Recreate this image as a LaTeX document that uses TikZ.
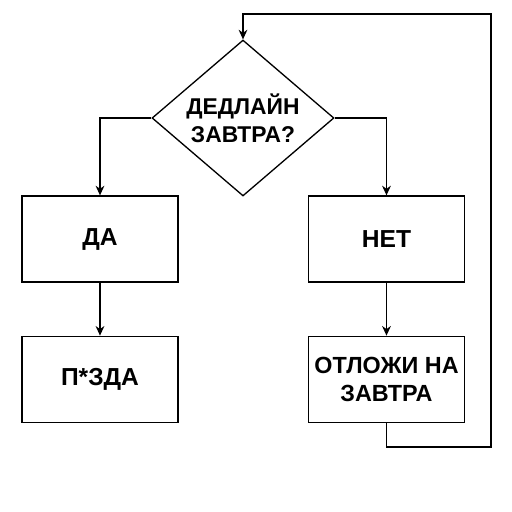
\documentclass[tikz,border=0pt]{standalone}
\usepackage{fontspec}
\setmainfont{Liberation Sans}
\usepackage{tikz}
\usetikzlibrary{arrows.meta,positioning,shapes.geometric}

\begin{document}
\begin{tikzpicture}[
x=0.02cm, y=-0.02cm,
font=\bfseries\fontsize{14}{16}\selectfont,
node distance=1.06cm,
line width=0.75pt,
box/.style={draw, minimum width=3.12cm, minimum height=1.72cm, align=center, inner sep=0pt},
decision/.style={draw, diamond, minimum width=3.64cm, minimum height=3.12cm, inner sep=0pt, aspect=1.17, align=center, font=\bfseries\fontsize{13}{16}\selectfont},
arrow/.style={-{Stealth[length=5.5pt, width=5pt]}}
]
\useasboundingbox (0,0) rectangle (512,512);
\node[decision] (deadline) at (243,118) {ДЕДЛАЙН\\ЗАВТРА?};
\node[box] (yes) at (100,239) {ДА};
\node[box] (no) at (386.5,239) {НЕТ};
\node[box, below=of yes] (doom) {П*ЗДА};
\node[box, below=of no, font=\bfseries\fontsize{13.3}{16}\selectfont] (postpone) {ОТЛОЖИ НА\\ЗАВТРА};
\coordinate (loopbottom) at (491,447);
\coordinate (looptop) at (491,14);
\draw[arrow] (deadline.west) -| (yes.north);
\draw[arrow] (deadline.east) -| (no.north);
\draw[arrow] (yes) -- (doom);
\draw[arrow] (no) -- (postpone);
\draw[arrow] (postpone.south) |- (loopbottom) -- (looptop) -| (deadline.north);
\end{tikzpicture}
\end{document}
